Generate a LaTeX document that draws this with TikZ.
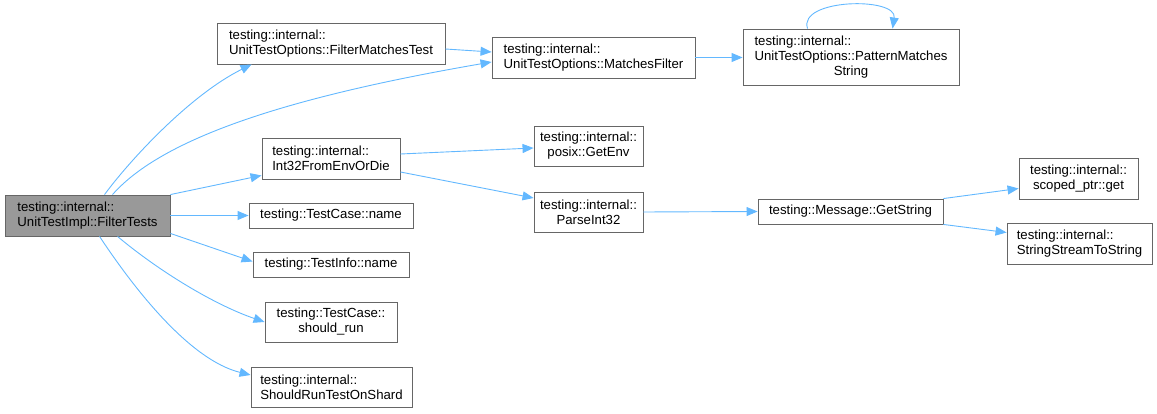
\documentclass[tikz,border=0pt]{standalone}
\usepackage{fontspec}
\setmainfont{Liberation Sans}
\usepackage{calc}
\usetikzlibrary{arrows.meta,calc}
\definecolor{edgeblue}{HTML}{63B8FF}
\definecolor{bordergray}{HTML}{666666}
\definecolor{mainfill}{HTML}{999999}
\tikzset{
  box/.style={draw=bordergray, line width=0.9pt, fill=white, inner sep=0pt,
    font=\fontsize{13.2}{15}\selectfont},
  edge/.style={draw=edgeblue, line width=0.9pt, -{Triangle[length=11pt,width=9pt]}},
}
\begin{document}
\begin{tikzpicture}[x=1pt,y=-1pt]
\useasboundingbox (0,0) rectangle (1157,414);
% nodes
\node[box, fill=mainfill, minimum width=165pt, minimum height=41pt, align=left] (main) at (87.5,215.5) {testing::internal::\\UnitTestImpl::FilterTests};
\node[box, minimum width=228pt, minimum height=41pt, align=left] (fmt) at (331,43.5) {testing::internal::\\UnitTestOptions::FilterMatchesTest};
\node[box, minimum width=203pt, minimum height=41pt, align=left] (mf) at (593.5,57.5) {testing::internal::\\UnitTestOptions::MatchesFilter};
\node[box, minimum width=216pt, minimum height=56pt, align=center] (pms) at (851,57) {\makebox[\widthof{UnitTestOptions::PatternMatches}][l]{testing::internal::}\\UnitTestOptions::PatternMatches\\String};
\node[box, minimum width=138pt, minimum height=41pt, align=left] (int32) at (331,158.5) {testing::internal::\\Int32FromEnvOrDie};
\node[box, minimum width=109pt, minimum height=40pt, align=center] (getenv) at (588.5,146) {testing::internal::\\posix::GetEnv};
\node[box, minimum width=109pt, minimum height=40pt, align=center] (parse) at (588.5,212) {testing::internal::\\ParseInt32};
\node[box, minimum width=164pt, minimum height=25pt] (tcname) at (331,215.5) {testing::TestCase::name};
\node[box, minimum width=156pt, minimum height=25pt] (tiname) at (331,264.5) {testing::TestInfo::name};
\node[box, minimum width=132pt, minimum height=40pt, align=center] (shouldrun) at (331,322) {testing::TestCase::\\should\_run};
\node[box, minimum width=161pt, minimum height=40pt, align=left] (shard) at (331.5,387) {testing::internal::\\ShouldRunTestOnShard};
\node[box, minimum width=185pt, minimum height=25pt] (getstring) at (850.5,211.5) {testing::Message::GetString};
\node[box, minimum width=119pt, minimum height=41pt, align=center] (scoped) at (1078.5,178.5) {testing::internal::\\scoped\_ptr::get};
\node[box, minimum width=145pt, minimum height=41pt, align=left] (ssts) at (1079.5,243.5) {testing::internal::\\StringStreamToString};
% edges
\draw[edge] ($(main.north west)+(100,0)$) .. controls (130,160) and (190,95) .. ($(fmt.south west)+(35,0)$);
\draw[edge] ($(main.north west)+(108,0)$) .. controls (165,135) and (300,95) .. ($(mf.west)+(0,4.5)$);
\draw[edge] (main.north east) -- ($(int32.south west)+(0,-4)$);
\draw[edge] (main.east) -- (tcname.west);
\draw[edge] ($(main.south east)+(0,-3)$) -- ($(tiname.north west)+(0,10)$);
\draw[edge] ($(main.south west)+(113,0)$) .. controls (160,272) and (215,305) .. ($(shouldrun.west)+(0,0)$);
\draw[edge] ($(main.south west)+(95,0)$) .. controls (135,290) and (190,360) .. ($(shard.west)+(0,-12)$);
\draw[edge] ($(fmt.east)+(0,5.5)$) -- ($(mf.west)+(0,-5.5)$);
\draw[edge] (mf.east) -- ($(pms.west)+(0,0.5)$);
\draw[edge] ($(int32.east)+(0,-4.5)$) -- ($(getenv.west)+(0,2)$);
\draw[edge] ($(int32.east)+(0,13.5)$) -- ($(parse.west)+(0,-14)$);
\draw[edge] (parse.east) -- (getstring.west);
\draw[edge] (getstring.north east) -- ($(scoped.west)+(0,10)$);
\draw[edge] (getstring.south east) -- ($(ssts.west)+(0,-11)$);
\draw[edge] ($(pms.north west)+(65,0)$) .. controls ($(pms.north west)+(55,-30)$) and ($(pms.north west)+(155,-32)$) .. ($(pms.north west)+(150,0)$);
\end{tikzpicture}
\end{document}
